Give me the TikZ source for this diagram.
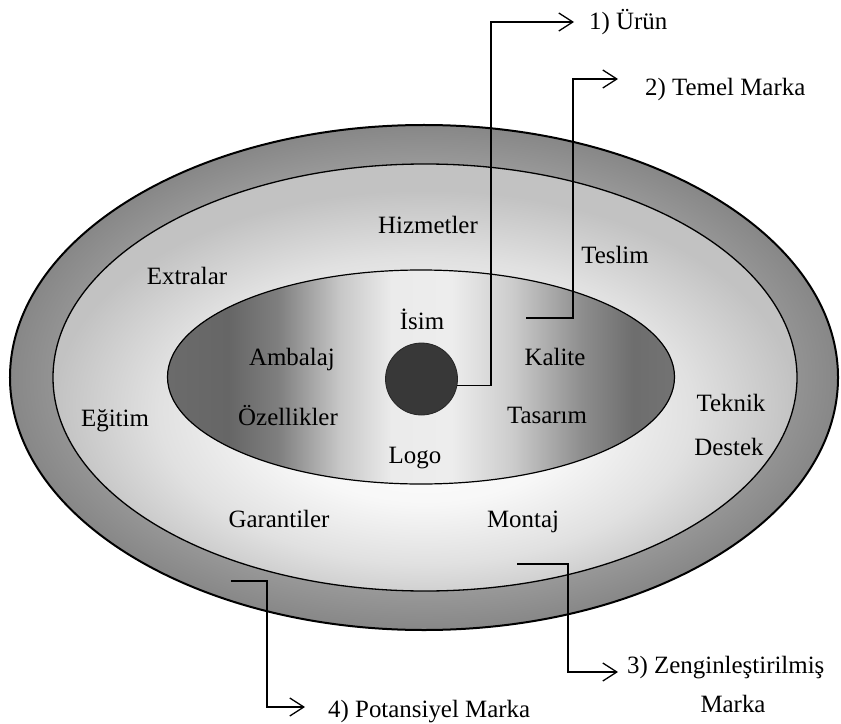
\documentclass[tikz,border=0pt]{standalone}
\usepackage{fontspec}
\setmainfont{Liberation Serif}
\usetikzlibrary{shapes.geometric,arrows.meta}
\pgfdeclareradialshading{outershade}{\pgfpoint{0bp}{0bp}}{rgb(0bp)=(.72,.72,.72); rgb(20bp)=(.62,.62,.62); rgb(25bp)=(.53,.53,.53); rgb(50bp)=(.53,.53,.53)}
\pgfdeclareradialshading{midshade}{\pgfpoint{0bp}{-6bp}}{rgb(0bp)=(1,1,1); rgb(10bp)=(.97,.97,.97); rgb(18bp)=(.88,.88,.88); rgb(25bp)=(.76,.76,.76); rgb(50bp)=(.76,.76,.76)}
\pgfdeclarehorizontalshading{innershade}{100bp}{rgb(0bp)=(.42,.42,.42); rgb(25bp)=(.42,.42,.42); rgb(31bp)=(.40,.40,.40); rgb(36bp)=(.50,.50,.50); rgb(42bp)=(.78,.78,.78); rgb(47bp)=(.92,.92,.92); rgb(53bp)=(.93,.93,.93); rgb(59bp)=(.80,.80,.80); rgb(66bp)=(.55,.55,.55); rgb(71bp)=(.43,.43,.43); rgb(75bp)=(.45,.45,.45); rgb(100bp)=(.45,.45,.45)}
\tikzset{
  lbl/.style={font=\fontsize{25}{30}\selectfont, inner sep=0pt, anchor=base},
  tag/.style={font=\fontsize{25}{30}\selectfont, inner sep=0pt, anchor=base west},
  conn/.style={line width=1.3bp, -{Straight Barb[length=14bp,width=18bp,line width=1.3bp]}},
  ring/.style={ellipse, inner sep=0pt, draw=black}
}
\begin{document}
\begin{tikzpicture}[x=1bp,y=-1bp]
\fill[white] (0,0) rectangle (841,724);
\useasboundingbox (0,0) rectangle (841,724);
% rings
\node[ring, line width=2bp, shading=outershade, minimum width=828bp, minimum height=505bp] (outer) at (424,377.5) {};
\node[ring, line width=1.3bp, shading=midshade, minimum width=744bp, minimum height=427bp] (mid) at (425,377.5) {};
\node[ring, line width=1.2bp, shading=innershade, minimum width=507bp, minimum height=214bp] (inner) at (421,377) {};
\node[circle, inner sep=0pt, minimum size=72bp, fill=black!78, draw=black!85, line width=0.8bp] (dot) at (421.5,379) {};
% labels in the rings
\node[lbl] (hiz) at (428,233) {Hizmetler};
\node[lbl] (tes) at (615,263) {Teslim};
\node[lbl] (ext) at (187,284) {Extralar};
\node[lbl] (egi) at (115,426) {Eğitim};
\node[lbl] (tek) at (731,411) {Teknik};
\node[lbl] (des) at (729,455) {Destek};
\node[lbl] (gar) at (279,527) {Garantiler};
\node[lbl] (mon) at (523,527) {Montaj};
\node[lbl] (isi) at (422,329) {İsim};
\node[lbl] (amb) at (292,365) {Ambalaj};
\node[lbl] (kal) at (555,365) {Kalite};
\node[lbl] (oze) at (288,425) {Özellikler};
\node[lbl] (tas) at (547,423) {Tasarım};
\node[lbl] (log) at (415,463) {Logo};
% outer labels
\node[tag] (l1) at (589,30) {1) Ürün};
\node[tag] (l2) at (645,96) {2) Temel Marka};
\node[tag] (l3) at (627,673) {3) Zenginleştirilmiş};
\node[lbl] (l3b) at (733,712) {Marka};
\node[tag] (l4) at (328,717) {4) Potansiyel Marka};
% connectors
\coordinate (k1) at (491,22);
\coordinate (t1) at (574,22);
\draw[conn] (dot.-10) -| (k1) -- (t1);
\coordinate (s2) at (526,318);
\coordinate (k2) at (573,79);
\coordinate (t2) at (618,79);
\draw[conn] (s2) -| (k2) -- (t2);
\coordinate (s3) at (517,564);
\coordinate (k3) at (568,672);
\coordinate (t3) at (618,672);
\draw[conn] (s3) -| (k3) -- (t3);
\coordinate (s4) at (231,581);
\coordinate (k4) at (267,707);
\coordinate (t4) at (305,707);
\draw[conn] (s4) -| (k4) -- (t4);
\end{tikzpicture}
\end{document}
